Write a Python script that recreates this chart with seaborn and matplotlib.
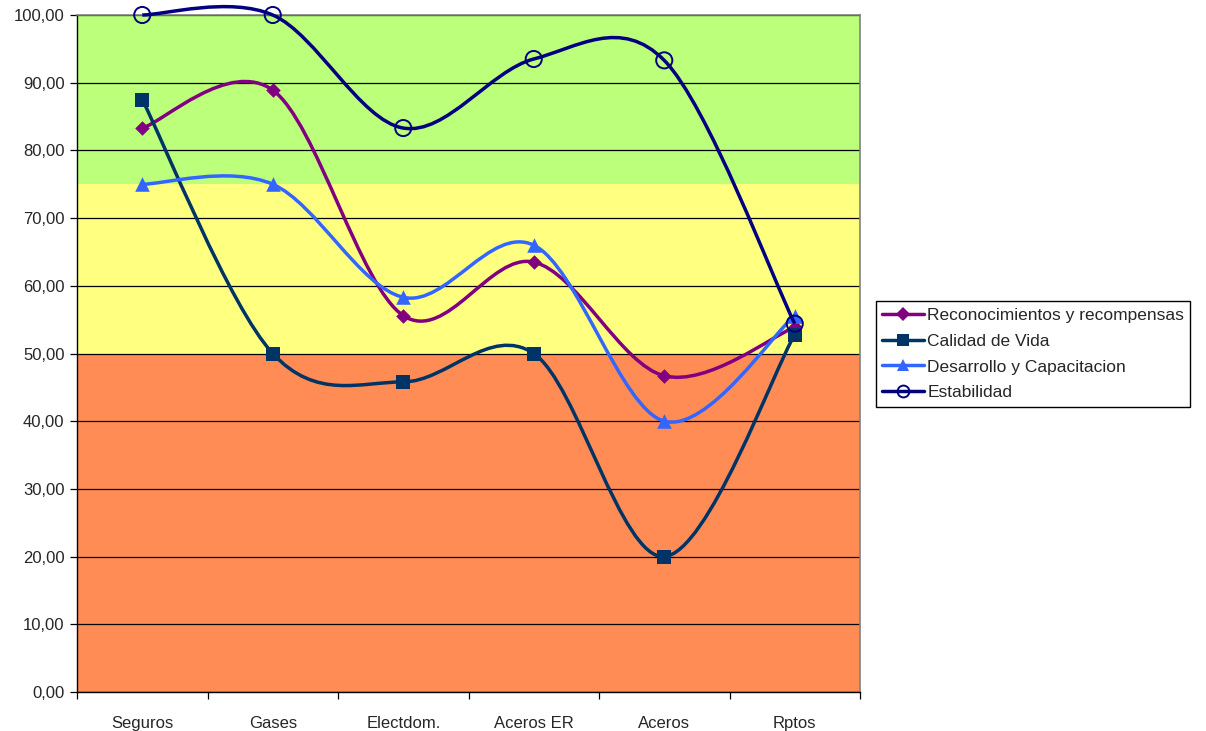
import matplotlib
matplotlib.use("Agg")
import matplotlib.pyplot as plt
import numpy as np
import seaborn as sns
from matplotlib.lines import Line2D
from matplotlib.patches import PathPatch
from matplotlib.path import Path
from matplotlib.ticker import FixedLocator, FuncFormatter

categories = ["Seguros", "Gases", "Electdom.", "Aceros ER", "Aceros", "Rptos"]
reconocimientos = [83.3, 88.9, 55.6, 63.5, 46.7, 53.9]
calidad_vida = [87.5, 50.0, 45.8, 50.0, 20.0, 52.8]
desarrollo = [75.0, 75.0, 58.3, 66.0, 40.0, 55.6]
estabilidad = [100.0, 100.0, 83.3, 93.5, 93.3, 54.4]

series_names = [
    "Reconocimientos y recompensas",
    "Calidad de Vida",
    "Desarrollo y Capacitacion",
    "Estabilidad",
]
series_values = [reconocimientos, calidad_vida, desarrollo, estabilidad]
series_colors = ["#800080", "#003366", "#3366FF", "#000080"]
series_markers = ["D", "s", "^", "o"]
marker_sizes = [55, 100, 110, 135]

sns.set_style("white")
plt.rcParams["font.family"] = ["Liberation Sans", "DejaVu Sans"]


def smooth_path(xs, ys):
    # Excel-like smoothed line: Catmull-Rom converted to cubic Bezier segments
    pts = np.column_stack([xs, ys]).astype(float)
    n = len(pts)
    verts = [pts[0]]
    codes = [Path.MOVETO]
    for i in range(n - 1):
        p_prev = pts[max(i - 1, 0)]
        p0 = pts[i]
        p1 = pts[i + 1]
        p_next = pts[min(i + 2, n - 1)]
        c1 = p0 + (p1 - p_prev) / 6.0
        c2 = p1 - (p_next - p0) / 6.0
        verts += [c1, c2, p1]
        codes += [Path.CURVE4, Path.CURVE4, Path.CURVE4]
    return Path(verts, codes)


fig = plt.figure(figsize=(12.06, 7.31), dpi=100)
ax = fig.add_axes([77 / 1206, 1 - 692 / 731, (860 - 77) / 1206, (692 - 15) / 731])

ax.axhspan(75, 100, color="#BCFF7A", zorder=0, lw=0)
ax.axhspan(50, 75, color="#FFFF80", zorder=0, lw=0)
ax.axhspan(0, 50, color="#FF8C55", zorder=0, lw=0)

xpos = np.arange(len(categories))

for i, (name, vals, col, mk, ms) in enumerate(
    zip(series_names, series_values, series_colors, series_markers, marker_sizes)
):
    patch = PathPatch(
        smooth_path(xpos, vals),
        facecolor="none",
        edgecolor=col,
        lw=2.5,
        zorder=3 + 2 * i,
        clip_on=False,
    )
    ax.add_patch(patch)
    if mk == "o":
        sns.scatterplot(
            x=xpos, y=vals, marker=mk, s=ms, color=col, facecolor="none",
            edgecolor=col, linewidth=1.4, zorder=4 + 2 * i, clip_on=False, ax=ax,
        )
    else:
        sns.scatterplot(
            x=xpos, y=vals, marker=mk, s=ms, color=col, edgecolor=col,
            linewidth=0, zorder=4 + 2 * i, clip_on=False, ax=ax,
        )

ax.set_xlim(-0.5, len(categories) - 0.5)
ax.set_ylim(0, 100)

ax.set_yticks(np.arange(0, 101, 10))
ax.yaxis.set_major_formatter(FuncFormatter(lambda v, p: f"{v:.2f}".replace(".", ",")))
ax.yaxis.grid(True, color="black", lw=0.9)
ax.set_axisbelow("line")

ax.set_xticks(xpos)
ax.set_xticklabels(categories)
ax.xaxis.set_minor_locator(FixedLocator(np.arange(-0.5, len(categories), 1.0)))
ax.tick_params(axis="x", which="major", length=0, pad=17, labelsize=12)
ax.tick_params(axis="x", which="minor", length=5, width=0.9, color="black", direction="out", bottom=True)
ax.tick_params(axis="y", which="major", length=5, width=0.9, color="black", direction="out",
               left=True, labelsize=12, pad=4)

for side in ["left", "bottom"]:
    ax.spines[side].set_color("black")
    ax.spines[side].set_linewidth(1.0)
for side in ["top", "right"]:
    ax.spines[side].set_color("#808080")
    ax.spines[side].set_linewidth(1.2)

ax.set_xlabel("")
ax.set_ylabel("")

handles = [
    Line2D([0], [0], color=col, lw=2.5, marker=mk,
           markersize=(7 if mk == "D" else 8.5),
           markerfacecolor=("none" if mk == "o" else col),
           markeredgecolor=col, markeredgewidth=(1.4 if mk == "o" else 0))
    for col, mk in zip(series_colors, series_markers)
]
leg = fig.legend(
    handles, series_names, loc="center left",
    bbox_to_anchor=(876 / 1206, 1 - 354 / 731),
    frameon=True, fancybox=False, edgecolor="black", framealpha=1,
    fontsize=12.5, handlelength=2.4, handletextpad=0.2, labelspacing=0.62,
    borderpad=0.35, borderaxespad=0,
)
leg.get_frame().set_linewidth(1.0)

fig.savefig("out.png", dpi=100)
